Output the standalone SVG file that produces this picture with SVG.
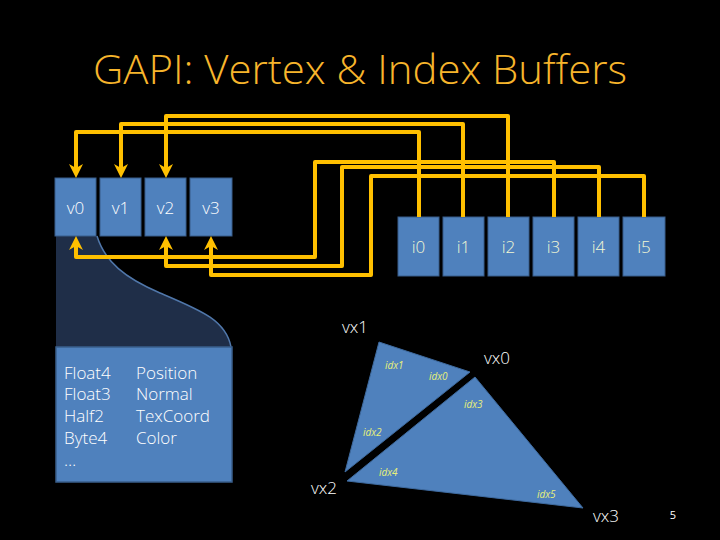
<svg xmlns="http://www.w3.org/2000/svg" width="720" height="540" viewBox="0 0 720 540">
<style>
.bg{fill:#000}
.title{font-family:"Open Sans","Liberation Sans",sans-serif;font-size:40px;font-weight:300;fill:#F7B52C}
.box{fill:#4F81BD;stroke:#385D8A;stroke-width:1}
.lbl{font-family:"Open Sans","Liberation Sans",sans-serif;font-size:17px;font-weight:300;fill:#fff;text-anchor:middle}
.ilbl{font-family:"Open Sans","Liberation Sans",sans-serif;font-size:17px;font-weight:300;fill:#F2F8D4;text-anchor:middle}
.txt{font-family:"Open Sans","Liberation Sans",sans-serif;font-size:17px;font-weight:300;fill:#fff}
.idx{font-family:"Open Sans","Liberation Sans",sans-serif;font-size:10px;font-style:italic;fill:#E8F07A}
.conn{fill:none;stroke:#FFC000;stroke-width:4;stroke-linejoin:round}
.tri{fill:#4F81BD;stroke:#3E6A9E;stroke-width:1}
</style>
<defs>
<marker id="ah" viewBox="0 0 16 16" markerWidth="16" markerHeight="16" refX="6" refY="8" orient="auto" markerUnits="userSpaceOnUse">
<path d="M0,1 L14,8 L0,15 L4,8 Z" fill="#FFC000"/>
</marker>
</defs>
<rect class="bg" x="0" y="0" width="720" height="540"/>
<text class="title" x="360" y="84" text-anchor="middle" textLength="534" lengthAdjust="spacingAndGlyphs">GAPI: Vertex &amp; Index Buffers</text>

<g id="detail">
<path d="M56,236 H97 C105,262 125,278 160,293 C200,310 226,320 231,347 H56 Z" fill="#1F2E48"/>
<path d="M97,236 C105,262 125,278 160,293 C200,310 226,320 231,347" fill="none" stroke="#5077AA" stroke-width="1.5"/>
<rect x="56" y="347" width="176" height="135" fill="#4F81BD" stroke="#3A5F8C" stroke-width="1.5"/>
<text class="txt" x="64" y="379">Float4</text>
<text class="txt" x="64" y="400">Float3</text>
<text class="txt" x="64" y="422">Half2</text>
<text class="txt" x="64" y="444">Byte4</text>
<text class="txt" x="64" y="466">…</text>
<text class="txt" x="136" y="379">Position</text>
<text class="txt" x="136" y="400">Normal</text>
<text class="txt" x="136" y="422">TexCoord</text>
<text class="txt" x="136" y="444">Color</text>
</g>

<g id="v0"><rect class="box" x="55" y="178" width="41" height="58"/><text class="lbl" x="75.5" y="214">v0</text></g>
<g id="v1"><rect class="box" x="100" y="178" width="41" height="58"/><text class="lbl" x="120.5" y="214">v1</text></g>
<g id="v2"><rect class="box" x="145" y="178" width="41" height="58"/><text class="lbl" x="165.5" y="214">v2</text></g>
<g id="v3"><rect class="box" x="190" y="178" width="42" height="58"/><text class="lbl" x="211" y="214">v3</text></g>

<g id="i0"><rect class="box" x="398" y="217" width="41" height="59"/><text class="ilbl" x="418.5" y="253">i0</text></g>
<g id="i1"><rect class="box" x="443" y="217" width="41" height="59"/><text class="ilbl" x="463.5" y="253">i1</text></g>
<g id="i2"><rect class="box" x="488" y="217" width="41" height="59"/><text class="ilbl" x="508.5" y="253">i2</text></g>
<g id="i3"><rect class="box" x="533" y="217" width="41" height="59"/><text class="ilbl" x="553.5" y="253">i3</text></g>
<g id="i4"><rect class="box" x="578" y="217" width="41" height="59"/><text class="ilbl" x="598.5" y="253">i4</text></g>
<g id="i5"><rect class="box" x="623" y="217" width="42" height="59"/><text class="ilbl" x="644" y="253">i5</text></g>

<g id="connectors">
<path class="conn" d="M419,217 V132 H76 V170" marker-end="url(#ah)"/>
<path class="conn" d="M463,217 V124 H121 V170" marker-end="url(#ah)"/>
<path class="conn" d="M508,217 V116 H166 V170" marker-end="url(#ah)"/>
<path class="conn" d="M554,217 V162 H315 V257 H76 V244" marker-end="url(#ah)"/>
<path class="conn" d="M599,217 V167 H342 V266 H166 V244" marker-end="url(#ah)"/>
<path class="conn" d="M644,217 V176 H371 V275 H211 V244" marker-end="url(#ah)"/>
</g>

<g id="triangles">
<polygon class="tri" points="379,342 470,372 345,472"/>
<polygon class="tri" points="475,377 583,508 347,481"/>
<text class="txt" x="342" y="333">vx1</text>
<text class="txt" x="484" y="364">vx0</text>
<text class="txt" x="311" y="494">vx2</text>
<text class="txt" x="593" y="522">vx3</text>
<text class="idx" x="385" y="369">idx1</text>
<text class="idx" x="429" y="380">idx0</text>
<text class="idx" x="464" y="408">idx3</text>
<text class="idx" x="363" y="436">idx2</text>
<text class="idx" x="379" y="476">idx4</text>
<text class="idx" x="537" y="498">idx5</text>
</g>
<text x="673" y="519" font-family="Open Sans, Liberation Sans, sans-serif" font-size="11" fill="#fff" text-anchor="middle">5</text>
</svg>
